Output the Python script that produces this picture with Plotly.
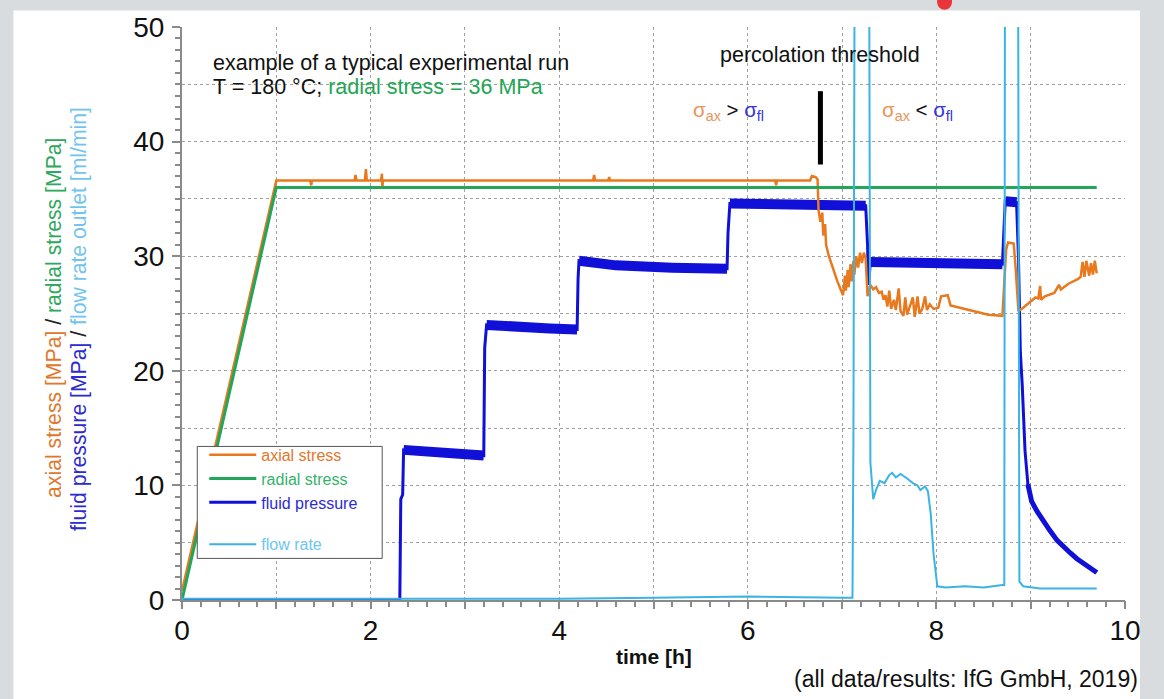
import plotly.graph_objects as go

# ---------------- data ----------------
t_radial = [0.0, 1.0, 9.70]
radial_stress = [0.0, 36.0, 36.0]

t_axial = [0.00, 1.00, 1.36, 1.37, 1.38, 1.83, 1.84, 1.85, 1.94, 1.95, 1.96,
           2.11, 2.12, 2.125, 2.13, 2.14, 4.36, 4.37, 4.38, 4.52, 4.53, 4.54,
           6.29, 6.30, 6.31, 6.66, 6.68, 6.72, 6.74,
           6.75, 6.77, 6.79, 6.80, 6.82, 6.83, 6.86, 6.90, 6.95, 7.01,
           7.03, 7.04, 7.06, 7.07, 7.09, 7.10, 7.12, 7.13, 7.15, 7.17, 7.19, 7.21, 7.23, 7.25, 7.26, 7.27,
           7.30, 7.33, 7.36, 7.39, 7.42, 7.44, 7.46, 7.48, 7.50, 7.52,
           7.55, 7.57, 7.60, 7.62, 7.65, 7.67, 7.69, 7.72, 7.75, 7.77,
           7.80, 7.82, 7.85, 7.88, 7.90, 7.93, 7.97, 8.02, 8.05, 8.12,
           8.15, 8.25, 8.35, 8.45, 8.55, 8.70, 8.72, 8.74, 8.76, 8.82,
           8.84, 8.87, 8.92, 8.99, 9.05, 9.08, 9.10, 9.11, 9.15, 9.25,
           9.30, 9.32, 9.40, 9.50, 9.53, 9.55, 9.57, 9.59, 9.62, 9.64,
           9.66, 9.68, 9.70]
axial_stress = [0.8, 36.6, 36.6, 36.2, 36.6, 36.6, 37.1, 36.6, 36.6, 37.6, 36.6,
                36.6, 37.2, 35.9, 36.6, 36.6, 36.6, 37.1, 36.6, 36.6, 36.9, 36.6,
                36.6, 36.2, 36.6, 36.6, 37.0, 36.9, 36.7,
                34.0, 33.0, 33.8, 31.8, 32.8, 31.0, 30.0, 29.0, 27.8, 26.6,
                28.3, 27.0, 28.8, 27.3, 29.3, 27.8, 29.6, 28.4, 30.0, 29.0, 30.3, 29.4, 30.3, 29.8, 27.2, 26.5,
                27.5, 27.1, 27.3, 26.8, 26.9, 26.2, 26.6, 25.6, 27.0, 25.4,
                26.2, 25.3, 27.2, 25.2, 24.8, 26.4, 24.9, 25.6, 26.4, 24.7,
                26.5, 25.0, 25.4, 26.5, 25.3, 25.8, 25.4, 25.5, 26.5, 26.6,
                25.7, 25.5, 25.3, 25.1, 24.9, 24.8, 27.5, 30.6, 31.2, 31.1,
                29.0, 25.2, 25.5, 26.0, 26.4, 26.3, 27.4, 26.2, 26.5, 26.8,
                27.5, 27.1, 27.6, 28.0, 28.2, 29.5, 28.2, 29.6, 28.3, 29.4,
                28.4, 29.6, 28.5]

t_fluid = [0.00, 2.31, 2.32, 2.34, 2.35, 2.60, 2.90, 3.20, 3.21, 3.23,
           3.50, 3.90, 4.19, 4.20, 4.21, 4.60, 5.20, 5.78, 5.79, 5.81,
           6.30, 6.80, 7.25, 7.27, 7.28, 7.30, 7.80, 8.30, 8.70, 8.72,
           8.73, 8.85, 8.87, 8.89, 8.91, 8.94, 8.97, 9.01, 9.07, 9.13,
           9.20, 9.28, 9.35, 9.42, 9.49, 9.56, 9.63, 9.70]
fluid_pressure = [0.0, 0.0, 8.8, 9.2, 13.1, 12.9, 12.7, 12.6, 22.0, 24.0,
                  23.8, 23.7, 23.6, 28.0, 29.6, 29.2, 29.0, 28.9, 32.0, 34.6,
                  34.5, 34.5, 34.4, 31.0, 27.5, 29.5, 29.4, 29.4, 29.3, 33.0,
                  34.8, 34.7, 30.0, 21.6, 18.8, 13.0, 10.1, 8.6, 7.7, 6.9,
                  6.1, 5.2, 4.6, 4.1, 3.6, 3.2, 2.8, 2.4]

# time ranges where the fluid pressure record is a noisy band
fluid_plateaus = [(2.35, 3.20), (3.23, 4.19), (4.21, 5.78), (5.81, 7.25), (7.30, 8.70), (8.73, 8.85)]
fluid_tail = [(8.97, 9.70)]

t_flow = [0.00, 2.00, 4.00, 5.00, 6.00, 7.00,
          7.11, 7.12, 7.14, 7.28, 7.30, 7.33, 7.36, 7.40, 7.45, 7.50,
          7.53, 7.57, 7.62, 7.69, 7.75, 7.80, 7.83, 7.88, 7.91, 7.94,
          7.97, 8.01, 8.10, 8.30, 8.50, 8.70, 8.72, 8.73, 8.86, 8.88,
          8.92, 9.10, 9.40, 9.70]
flow_rate = [0.1, 0.1, 0.1, 0.2, 0.3, 0.2,
             0.2, 14.0, 80.0, 80.0, 12.0, 8.8, 9.6, 10.4, 10.2, 10.9,
             11.1, 10.7, 11.0, 10.6, 10.2, 10.0, 9.6, 9.9, 9.5, 7.5,
             4.0, 1.2, 1.1, 1.2, 1.1, 1.3, 1.3, 80.0, 80.0, 1.6,
             1.2, 1.0, 1.0, 1.0]

x_label_step = 2      # labelled hours
x_grid_step = 1       # dotted grid every hour
y_label_step = 10     # labelled MPa
y_grid_step = 5       # dotted grid every 5 MPa
x_range = [0, 10]
y_range = [0, 50]

threshold_time = 6.77
threshold_span = (38.0, 44.4)

# ---------------- styling ----------------
FONT = "Liberation Sans, Arial, Helvetica, sans-serif"
C_AX = "#e8791e"
C_RAD = "#22a65a"
C_FL = "#1010d8"
C_FLOW = "#3bb3e3"
GRAY = "#8a8a8a"
GRID = "#a0a0a0"


def segments(ranges):
    xs, ys = [], []
    for a, b in ranges:
        for t, v in zip(t_fluid, fluid_pressure):
            if a - 1e-9 <= t <= b + 1e-9:
                xs.append(t)
                ys.append(v)
        xs.append(None)
        ys.append(None)
    return xs, ys


band_t, band_v = segments(fluid_plateaus)
tail_t, tail_v = segments(fluid_tail)

fig = go.Figure()

# drawing order: fluid pressure, axial, radial, flow rate (on top)
fig.add_trace(go.Scatter(x=band_t, y=band_v, mode="lines", line=dict(color=C_FL, width=10),
                         legendgroup="g1", showlegend=False, hoverinfo="skip"))
fig.add_trace(go.Scatter(x=tail_t, y=tail_v, mode="lines", line=dict(color=C_FL, width=5),
                         legendgroup="g1", showlegend=False, hoverinfo="skip"))
fig.add_trace(go.Scatter(x=t_fluid, y=fluid_pressure, mode="lines", line=dict(color=C_FL, width=3),
                         name="<span style='color:#2b2bd6'>fluid pressure</span>",
                         legendgroup="g1", legendrank=3))
fig.add_trace(go.Scatter(x=t_axial, y=axial_stress, mode="lines", line=dict(color=C_AX, width=2.5),
                         name="<span style='color:#e0782c'>axial stress</span>",
                         legendgroup="g1", legendrank=1))
fig.add_trace(go.Scatter(x=t_radial, y=radial_stress, mode="lines", line=dict(color=C_RAD, width=3),
                         name="<span style='color:#33b36a'>radial stress</span>",
                         legendgroup="g1", legendrank=2))
fig.add_trace(go.Scatter(x=t_flow, y=flow_rate, mode="lines", line=dict(color=C_FLOW, width=2),
                         name="<span style='color:#6cc6f0'>flow rate</span>",
                         legendgroup="g2", legendrank=5))
# carrier for the grid / major-tick axes (no data)
fig.add_trace(go.Scatter(x=[None], y=[None], xaxis="x2", yaxis="y3", showlegend=False,
                         hoverinfo="skip"))

annotations = [
    dict(x=0.31, y=46.9, xref="x", yref="y", xanchor="left", yanchor="middle",
         text="example of a typical experimental run", showarrow=False,
         font=dict(size=21.5, color="#111111", family=FONT)),
    dict(x=0.31, y=44.8, xref="x", yref="y", xanchor="left", yanchor="middle",
         text="T = 180 °C; <span style='color:#1fa655'>radial stress = 36 MPa</span>", showarrow=False,
         font=dict(size=21.5, color="#111111", family=FONT)),
    dict(x=threshold_time, y=47.6, xref="x", yref="y", xanchor="center", yanchor="middle",
         text="percolation threshold", showarrow=False,
         font=dict(size=21.5, color="#111111", family=FONT)),
    dict(x=5.79, y=42.7, xref="x", yref="y", xanchor="center", yanchor="middle",
         text="<span style='color:#e8945a'>σ<sub>ax</sub></span> &gt; <span style='color:#3535e0'>σ<sub>fl</sub></span>",
         showarrow=False, font=dict(size=20.5, color="#111111", family=FONT)),
    dict(x=7.80, y=42.7, xref="x", yref="y", xanchor="center", yanchor="middle",
         text="<span style='color:#e8945a'>σ<sub>ax</sub></span> &lt; <span style='color:#3535e0'>σ<sub>fl</sub></span>",
         showarrow=False, font=dict(size=20.5, color="#111111", family=FONT)),
    dict(x=-0.1364, y=0.493, xref="paper", yref="paper", xanchor="center", yanchor="middle",
         textangle=-90, showarrow=False,
         text="<span style='color:#e0782c'>axial stress [MPa]</span> / "
              "<span style='color:#2ea85c'>radial stress [MPa]</span>",
         font=dict(size=21.2, color="#222222", family=FONT)),
    dict(x=-0.1099, y=0.491, xref="paper", yref="paper", xanchor="center", yanchor="middle",
         textangle=-90, showarrow=False,
         text="<span style='color:#2b2bd0'>fluid pressure [MPa]</span> / "
              "<span style='color:#72c4ee'>flow rate outlet [ml/min]</span>",
         font=dict(size=21.2, color="#222222", family=FONT)),
    dict(x=0.5007, y=-0.0986, xref="paper", yref="paper", xanchor="center", yanchor="middle",
         text="<b>time [h]</b>", showarrow=False, font=dict(size=21, color="#111111", family=FONT)),
    dict(x=1.0159, y=-0.1383, xref="paper", yref="paper", xanchor="right", yanchor="middle",
         text="(all data/results: IfG GmbH, 2019)", showarrow=False,
         font=dict(size=23, color="#111111", family=FONT)),
]

shapes = [
    # white page area on the grey frame
    dict(type="rect", xref="paper", yref="paper", x0=-0.1788, x1=1.0159, y0=-0.25, y1=1.0289,
         fillcolor="white", line=dict(width=0), layer="below"),
    # red logo remnant at the top
    dict(type="circle", xref="paper", yref="paper", x0=0.8007, x1=0.8166, y0=1.0300, y1=1.058,
         fillcolor="#e8343a", line=dict(width=0), layer="above"),
    # percolation threshold marker
    dict(type="line", xref="x", yref="y", x0=threshold_time, x1=threshold_time,
         y0=threshold_span[0], y1=threshold_span[1], line=dict(color="black", width=5)),
    # legend box
    dict(type="rect", xref="paper", yref="paper", x0=0.0162, x1=0.2123, y0=0.0726, y1=0.268,
         fillcolor="white", line=dict(color="#555555", width=1), layer="above"),
]

fig.update_layout(
    width=1164, height=699,
    margin=dict(l=182, r=39, t=22, b=99),
    paper_bgcolor="#d8dcdf",
    plot_bgcolor="white",
    font=dict(family=FONT, color="#111111"),
    showlegend=True,
    legend=dict(x=0.0236, y=0.283, xanchor="left", yanchor="top", bgcolor="rgba(0,0,0,0)",
                borderwidth=0, font=dict(size=16, family=FONT), itemwidth=47,
                traceorder="grouped", tracegroupgap=18),
    # labelled axis: labels every 2 h, minor ticks every 0.2 h
    xaxis=dict(range=x_range, dtick=x_label_step, tick0=0,
               showline=True, linecolor=GRAY, linewidth=2, ticks="",
               showgrid=False, zeroline=False, layer="below traces",
               ticklabelstandoff=4,
               tickfont=dict(size=28, color="#111111", family=FONT),
               minor=dict(ticks="outside", ticklen=5, dtick=0.2, tick0=0, tickcolor=GRAY,
                          tickwidth=1.5, showgrid=False)),
    # hourly grid and major tick marks
    xaxis2=dict(overlaying="x", anchor="y3", range=x_range, dtick=x_grid_step, tick0=0,
                showgrid=True, gridcolor=GRID, griddash="dot", gridwidth=1,
                showticklabels=False, ticks="outside", ticklen=8, tickcolor=GRAY, tickwidth=1.5,
                showline=False, zeroline=False),
    yaxis=dict(range=y_range, dtick=y_label_step, tick0=0,
               showline=True, linecolor=GRAY, linewidth=2, ticks="outside", ticklen=8,
               tickcolor=GRAY, tickwidth=1.5, showgrid=False, zeroline=False, ticklabelstandoff=2,
               tickfont=dict(size=28, color="#111111", family=FONT),
               minor=dict(ticks="outside", ticklen=5, dtick=1, tick0=0, tickcolor=GRAY, showgrid=False)),
    yaxis3=dict(overlaying="y", anchor="x2", range=y_range, dtick=y_grid_step, tick0=0,
                showgrid=True, gridcolor=GRID, griddash="dot", gridwidth=1,
                showticklabels=False, ticks="", showline=False, zeroline=False),
    yaxis2=dict(overlaying="y", side="right", type="log", range=[-4, 5], showgrid=False,
                showline=True, linecolor=GRAY, linewidth=1.5, showticklabels=False,
                ticks="outside", ticklen=6, dtick="D1", tickcolor=GRAY, zeroline=False),
    annotations=annotations,
    shapes=shapes,
    hovermode=False,
)

fig.write_html("out.html", config={"displayModeBar": False},
               post_script="document.body.style.margin='0';")
